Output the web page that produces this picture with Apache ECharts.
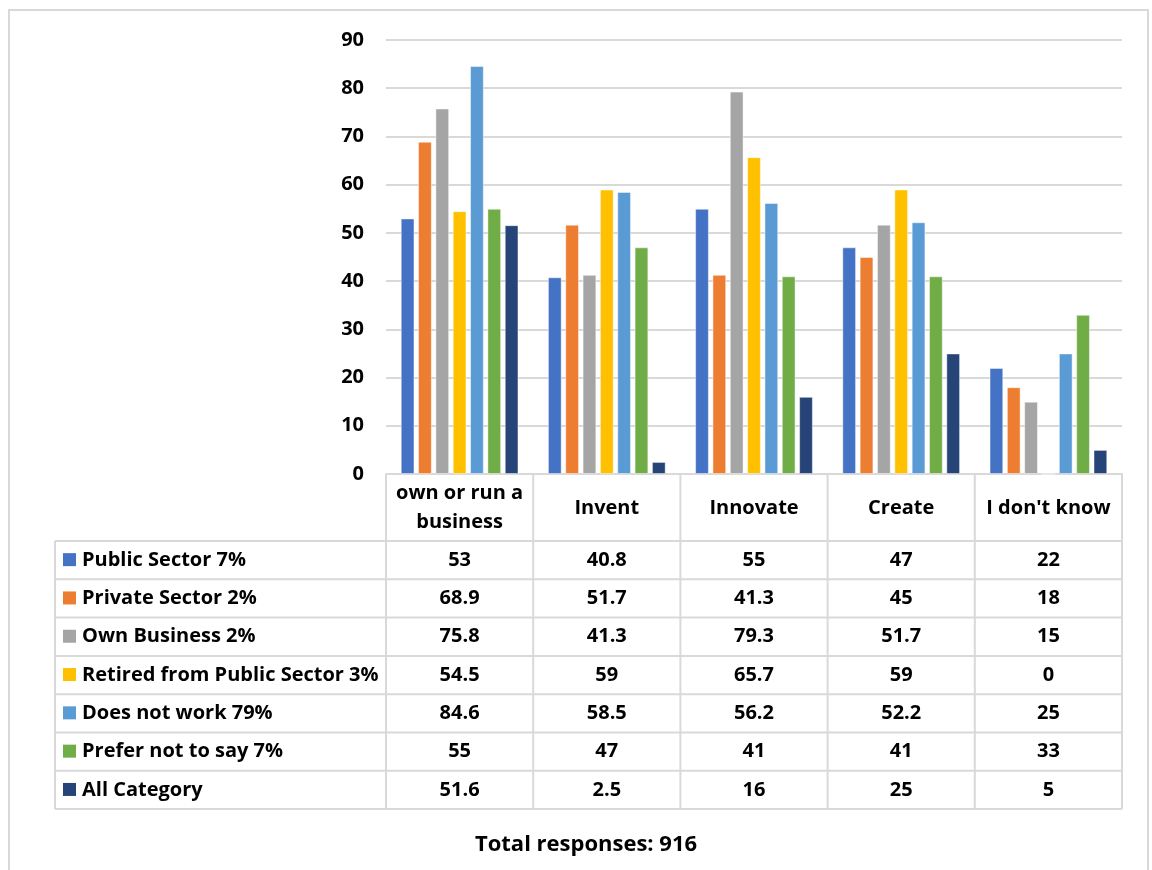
<!DOCTYPE html>
<html>
<head>
<meta charset="utf-8">
<script src="https://cdn.jsdelivr.net/npm/echarts@6/dist/echarts.min.js"></script>
<style>
  html, body { margin: 0; padding: 0; background: #fff; }
  #chart { width: 1152px; height: 870px; }
</style>
</head>
<body>
<div id="chart"></div>
<script>
// ---- data ----
const categories = ['own or run a\nbusiness', 'Invent', 'Innovate', 'Create', "I don't know"];
const seriesNames = ['Public Sector 7%', 'Private Sector 2%', 'Own Business 2%', 'Retired from Public Sector 3%', 'Does not work 79%', 'Prefer not to say 7%', 'All Category'];
const publicSector  = [53, 40.8, 55, 47, 22];
const privateSector = [68.9, 51.7, 41.3, 45, 18];
const ownBusiness   = [75.8, 41.3, 79.3, 51.7, 15];
const retiredPublic = [54.5, 59, 65.7, 59, 0];
const doesNotWork   = [84.6, 58.5, 56.2, 52.2, 25];
const preferNot     = [55, 47, 41, 41, 33];
const allCategory   = [51.6, 2.5, 16, 25, 5];
const yMin = 0, yMax = 90, yInterval = 10;
const footnote = 'Total responses: 916';

const seriesData = [publicSector, privateSector, ownBusiness, retiredPublic, doesNotWork, preferNot, allCategory];
const colors = ['#4472C4', '#ED7D31', '#A5A5A5', '#FFC000', '#5B9BD5', '#70AD47', '#264478'];
const FONT = "'Open Sans', 'Noto Sans', sans-serif";
const GRID_COLOR = '#D9D9D9';

const chart = echarts.init(document.getElementById('chart'), null, { renderer: 'canvas' });

const gridLeft = 386, gridRight = 1152 - 1122, gridTop = 40, gridBottom = 870 - 474;

chart.setOption({
  animation: false,
  backgroundColor: '#fff',
  color: colors,
  grid: { left: gridLeft, right: gridRight, top: gridTop, bottom: gridBottom, containLabel: false },
  xAxis: {
    type: 'category',
    data: categories,
    axisLine: { show: true, lineStyle: { color: GRID_COLOR, width: 2 } },
    axisTick: { show: false },
    axisLabel: {
      show: true, interval: 0, margin: 34, verticalAlign: 'middle',
      color: '#000', fontFamily: FONT, fontWeight: 'bold', fontSize: 20, lineHeight: 29
    }
  },
  yAxis: {
    type: 'value',
    min: yMin, max: yMax, interval: yInterval,
    axisLine: { show: false },
    axisTick: { show: false },
    splitLine: { lineStyle: { color: GRID_COLOR, width: 2 } },
    axisLabel: { color: '#000', fontFamily: FONT, fontWeight: 'bold', fontSize: 20, margin: 22 }
  },
  series: seriesNames.map((name, i) => ({
    name: name,
    type: 'bar',
    data: seriesData[i],
    barGap: '26%',
    barCategoryGap: '20%',
    itemStyle: { color: colors[i], borderColor: 'rgba(255,255,255,0.45)', borderWidth: 1 }
  }))
});

// ---- data table drawn below the chart using the axis scale ----
function buildTable() {
  const c0 = chart.convertToPixel({ gridIndex: 0 }, [0, 0]);
  const c1 = chart.convertToPixel({ gridIndex: 0 }, [1, 0]);
  const band = c1[0] - c0[0];
  const yZero = c0[1];
  const n = categories.length;
  const leftEdge = c0[0] - band / 2;
  const rightEdge = leftEdge + band * n;
  const tableLeft = 55;
  const headerBottom = 541;
  const rowH = 38.3;
  const nRows = seriesNames.length;
  const tableBottom = headerBottom + rowH * nRows;
  const lineStyle = { stroke: GRID_COLOR, lineWidth: 2 };
  const els = [];

  // outer frame
  els.push({ type: 'rect', shape: { x: 9, y: 10, width: 1139, height: 900 }, style: { fill: 'none', stroke: GRID_COLOR, lineWidth: 2 }, silent: true, z: 0 });

  // vertical lines (category column separators)
  for (let k = 0; k <= n; k++) {
    const x = leftEdge + band * k;
    els.push({ type: 'line', shape: { x1: x, y1: yZero, x2: x, y2: tableBottom }, style: lineStyle, silent: true });
  }
  // legend column left border
  els.push({ type: 'line', shape: { x1: tableLeft, y1: headerBottom, x2: tableLeft, y2: tableBottom }, style: lineStyle, silent: true });
  // horizontal lines
  for (let r = 0; r <= nRows; r++) {
    const y = headerBottom + rowH * r;
    els.push({ type: 'line', shape: { x1: tableLeft, y1: y, x2: rightEdge, y2: y }, style: lineStyle, silent: true });
  }
  // rows
  for (let r = 0; r < nRows; r++) {
    const yc = headerBottom + rowH * r + rowH / 2;
    els.push({ type: 'rect', shape: { x: 63, y: yc - 7, width: 13, height: 13 }, style: { fill: colors[r] }, silent: true });
    els.push({ type: 'text', style: { text: seriesNames[r], x: 82, y: yc, textVerticalAlign: 'middle', verticalAlign: 'middle', fill: '#000', font: 'bold 20px ' + FONT }, silent: true });
    for (let k = 0; k < n; k++) {
      const xc = leftEdge + band * (k + 0.5);
      els.push({ type: 'text', style: { text: String(seriesData[r][k]), x: xc, y: yc, align: 'center', textAlign: 'center', verticalAlign: 'middle', textVerticalAlign: 'middle', fill: '#000', font: 'bold 20px ' + FONT }, silent: true });
    }
  }
  // footnote
  els.push({ type: 'text', style: { text: footnote, x: 586, y: 845, align: 'center', textAlign: 'center', verticalAlign: 'middle', textVerticalAlign: 'middle', fill: '#000', font: 'bold 22px ' + FONT }, silent: true });

  chart.setOption({ graphic: { elements: els } });
}
buildTable();
</script>
</body>
</html>
